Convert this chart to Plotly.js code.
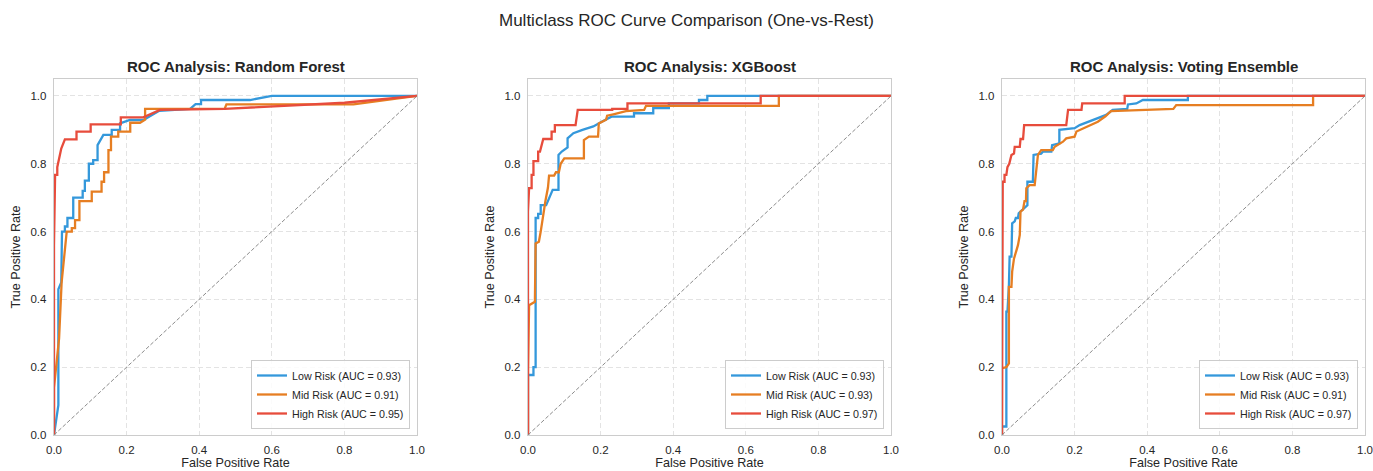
<!DOCTYPE html>
<html>
<head>
<meta charset="utf-8">
<script src="https://cdn.plot.ly/plotly-3.0.1.min.js"></script>
<style>html,body{margin:0;padding:0;background:#fff;}#chart{width:1373px;height:471px;}</style>
</head>
<body>
<div id="chart"></div>
<script>
// ---- Data ----
const models = ["Random Forest", "XGBoost", "Voting Ensemble"];
const classNames = ["Low Risk", "Mid Risk", "High Risk"];
const aucRF = [0.93, 0.91, 0.95];
const aucXGB = [0.93, 0.93, 0.97];
const aucVE = [0.93, 0.91, 0.97];
const xTicks = [0, 0.2, 0.4, 0.6, 0.8, 1.0];
const diagX = [0, 1];
const diagY = [0, 1];

// Random Forest
const rfLowX = [0,0.012,0.012,0.02,0.022,0.03,0.03,0.037,0.037,0.053,0.053,0.079,0.079,0.085,0.085,0.096,0.096,0.108,0.108,0.12,0.12,0.136,0.159,0.159,0.182,0.182,0.209,0.246,0.29,0.375,0.39,0.405,0.405,0.54,0.6,1];
const rfLowY = [0,0.088,0.43,0.45,0.60,0.60,0.615,0.615,0.64,0.64,0.70,0.70,0.72,0.72,0.75,0.75,0.80,0.80,0.811,0.811,0.855,0.885,0.885,0.90,0.90,0.919,0.929,0.929,0.956,0.962,0.976,0.976,0.988,0.988,1,1];
const rfMidX = [0,0,0.014,0.021,0.035,0.049,0.049,0.058,0.058,0.07,0.07,0.104,0.104,0.131,0.131,0.138,0.138,0.15,0.15,0.157,0.157,0.177,0.177,0.21,0.21,0.237,0.251,0.251,0.47,0.475,0.825,1];
const rfMidY = [0,0.14,0.285,0.45,0.60,0.60,0.61,0.61,0.634,0.634,0.69,0.69,0.718,0.718,0.747,0.747,0.775,0.775,0.84,0.84,0.88,0.88,0.895,0.895,0.921,0.921,0.93,0.962,0.962,0.975,0.975,1];
const rfHighX = [0,0,0.003,0.009,0.009,0.013,0.02,0.03,0.062,0.062,0.101,0.101,0.184,0.184,0.246,0.292,0.47,0.8,1];
const rfHighY = [0,0.56,0.767,0.767,0.79,0.81,0.845,0.872,0.872,0.895,0.895,0.916,0.916,0.937,0.937,0.959,0.962,0.98,1];

// XGBoost
const xgbLowX = [0,0,0.015,0.015,0.021,0.021,0.028,0.028,0.035,0.035,0.05,0.058,0.062,0.068,0.084,0.084,0.093,0.109,0.109,0.125,0.15,0.18,0.203,0.23,0.292,0.292,0.345,0.345,0.388,0.388,0.471,0.471,0.494,0.494,1];
const xgbLowY = [0,0.177,0.177,0.2,0.2,0.64,0.64,0.652,0.652,0.678,0.678,0.7,0.71,0.723,0.723,0.826,0.836,0.848,0.875,0.89,0.9,0.91,0.924,0.939,0.939,0.949,0.949,0.964,0.964,0.978,0.978,0.988,0.988,1,1];
const xgbMidX = [0,0,0.003,0.019,0.021,0.03,0.035,0.04,0.048,0.055,0.058,0.072,0.077,0.085,0.09,0.1,0.154,0.154,0.168,0.193,0.195,0.215,0.218,0.235,0.27,0.32,0.325,0.691,0.691,1];
const xgbMidY = [0,0.187,0.383,0.393,0.565,0.57,0.6,0.64,0.69,0.73,0.765,0.765,0.775,0.775,0.8,0.816,0.816,0.87,0.88,0.88,0.919,0.93,0.942,0.946,0.955,0.959,0.971,0.971,1,1];
const xgbHighX = [0,0,0.003,0.01,0.01,0.015,0.015,0.028,0.028,0.033,0.042,0.065,0.065,0.074,0.074,0.131,0.137,0.232,0.232,0.274,0.274,0.641,0.641,1];
const xgbHighY = [0,0.659,0.728,0.728,0.767,0.767,0.808,0.808,0.836,0.836,0.873,0.873,0.895,0.895,0.914,0.914,0.959,0.959,0.962,0.962,0.978,0.978,1,1];

// Voting Ensemble
const veLowX = [0,0,0.012,0.012,0.015,0.019,0.021,0.026,0.028,0.035,0.038,0.044,0.046,0.058,0.07,0.07,0.085,0.087,0.108,0.113,0.136,0.138,0.158,0.158,0.2,0.214,0.237,0.265,0.287,0.305,0.345,0.347,0.37,0.388,0.512,0.512,1];
const veLowY = [0,0.025,0.025,0.364,0.364,0.44,0.526,0.526,0.624,0.63,0.64,0.64,0.654,0.665,0.678,0.747,0.747,0.826,0.83,0.836,0.836,0.855,0.86,0.9,0.905,0.914,0.924,0.934,0.944,0.959,0.962,0.975,0.978,0.988,0.988,1,1];
const veMidX = [0,0,0.012,0.019,0.019,0.026,0.028,0.033,0.044,0.049,0.051,0.058,0.062,0.066,0.067,0.076,0.09,0.094,0.099,0.108,0.14,0.145,0.168,0.177,0.2,0.205,0.237,0.264,0.285,0.3,0.472,0.48,0.857,0.857,1];
const veMidY = [0,0.197,0.2,0.211,0.437,0.437,0.482,0.52,0.56,0.59,0.659,0.665,0.69,0.69,0.728,0.737,0.737,0.78,0.826,0.84,0.84,0.85,0.865,0.875,0.88,0.895,0.91,0.924,0.94,0.955,0.962,0.973,0.973,1,1];
const veHighX = [0,0,0.002,0.007,0.007,0.012,0.015,0.02,0.026,0.033,0.035,0.049,0.051,0.058,0.061,0.177,0.182,0.219,0.221,0.338,0.338,1];
const veHighY = [0,0.58,0.747,0.747,0.767,0.767,0.79,0.8,0.826,0.83,0.85,0.85,0.873,0.873,0.914,0.914,0.959,0.959,0.978,0.978,1,1];

// ---- Styles / layout ----
const W = 1373, H = 471;
const colors = ["#3498db", "#e67e22", "#e74c3c"];
const textColor = "#262626";
const font = "Liberation Sans, Arial, Helvetica, sans-serif";
const plotLeftPx = [54, 528, 1002];
const plotWidthPx = 363;
const plotTopPx = 79, plotBottomPx = 435;

const curves = [
  [[rfLowX, rfLowY], [rfMidX, rfMidY], [rfHighX, rfHighY]],
  [[xgbLowX, xgbLowY], [xgbMidX, xgbMidY], [xgbHighX, xgbHighY]],
  [[veLowX, veLowY], [veMidX, veMidY], [veHighX, veHighY]]
];
const aucs = [aucRF, aucXGB, aucVE];

const traces = [];
const layout = {
  width: W, height: H,
  margin: {l: 0, r: 0, t: 0, b: 0},
  paper_bgcolor: "#ffffff",
  plot_bgcolor: "#ffffff",
  font: {family: font, color: textColor, size: 11.5},
  showlegend: true,
  title: {
    text: "Multiclass ROC Curve Comparison (One-vs-Rest)",
    x: 0.5, xanchor: "center",
    y: 1 - 20 / H, yanchor: "middle",
    font: {size: 17, color: textColor, family: font}
  },
  annotations: []
};

for (let m = 0; m < 3; m++) {
  const sfx = m === 0 ? "" : String(m + 1);
  const xa = "x" + sfx, ya = "y" + sfx;
  const legName = m === 0 ? "legend" : "legend" + (m + 1);
  const x0 = plotLeftPx[m] / W, x1 = (plotLeftPx[m] + plotWidthPx) / W;
  const yDom = [1 - plotBottomPx / H, 1 - plotTopPx / H];

  for (let c = 0; c < 3; c++) {
    traces.push({
      type: "scatter", mode: "lines",
      x: curves[m][c][0], y: curves[m][c][1],
      xaxis: xa, yaxis: ya,
      name: classNames[c] + " (AUC = " + aucs[m][c].toFixed(2) + ")",
      line: {color: colors[c], width: 2.3},
      legend: legName,
      hoverinfo: "skip"
    });
  }
  traces.push({
    type: "scatter", mode: "lines",
    x: diagX, y: diagY, xaxis: xa, yaxis: ya,
    line: {color: "#8c8c8c", width: 1, dash: "4px,2px"},
    showlegend: false, hoverinfo: "skip"
  });

  const common = {
    showgrid: true, gridcolor: "#e3e3e3", griddash: "5px,3px", gridwidth: 1,
    zeroline: false, showline: true, linecolor: "#cccccc", linewidth: 1.25, mirror: true,
    ticks: "", tickfont: {size: 11.5, color: textColor, family: font},
    tickformat: ".1f", fixedrange: true
  };
  layout["xaxis" + sfx] = Object.assign({}, common, {
    domain: [x0, x1], range: [0, 1], anchor: ya,
    tickvals: xTicks,
    ticklabelstandoff: 4,
    title: {text: "False Positive Rate", font: {size: 12.6, color: textColor, family: font}, standoff: 3}
  });
  layout["yaxis" + sfx] = Object.assign({}, common, {
    domain: yDom, range: [0, 1.05], anchor: xa,
    tickvals: xTicks,
    ticklabelstandoff: 4,
    title: {text: "True Positive Rate", font: {size: 12.6, color: textColor, family: font}, standoff: 7}
  });
  layout[legName] = {
    x: (plotLeftPx[m] + plotWidthPx - 7) / W, xanchor: "right",
    y: 1 - (plotBottomPx - 6) / H, yanchor: "bottom",
    xref: "paper", yref: "paper",
    bgcolor: "rgba(255,255,255,0.85)",
    bordercolor: "#cccccc", borderwidth: 1,
    font: {size: 10.7, color: textColor, family: font},
    itemwidth: 30, tracegroupgap: 0
  };
  layout.annotations.push({
    text: "<b>ROC Analysis: " + models[m] + "</b>",
    xref: "paper", yref: "paper",
    x: (x0 + x1) / 2, y: 1 - 67 / H,
    xanchor: "center", yanchor: "middle",
    showarrow: false,
    font: {size: 15, color: textColor, family: font}
  });
}

Plotly.newPlot("chart", traces, layout, {displayModeBar: false, staticPlot: true});
</script>
</body>
</html>
